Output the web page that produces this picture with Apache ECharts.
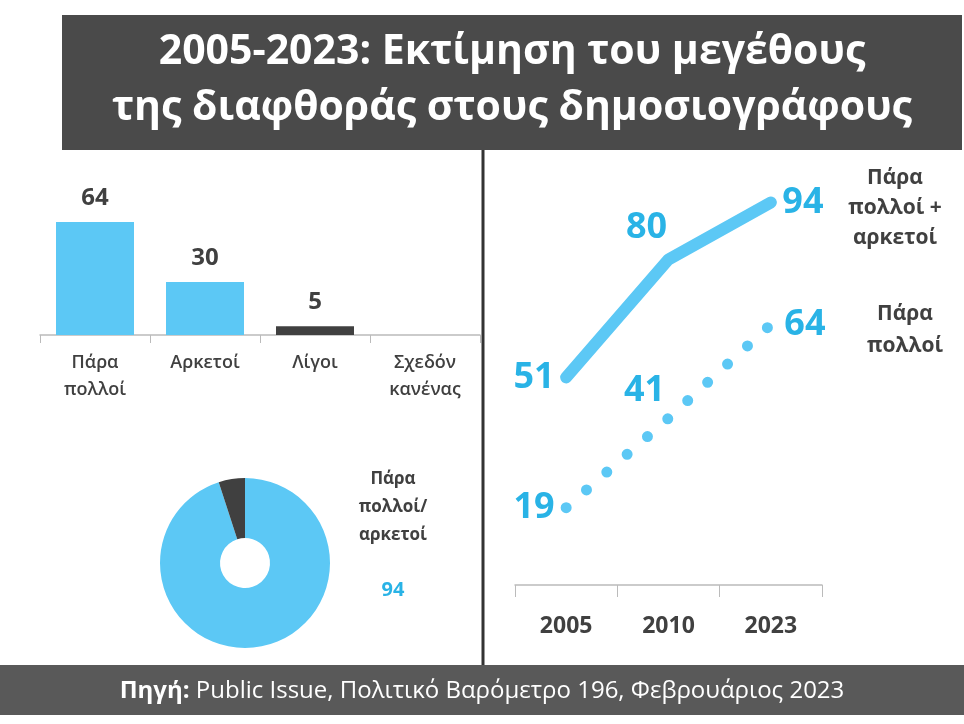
<!DOCTYPE html>
<html><head><meta charset="utf-8">
<script src="https://cdn.jsdelivr.net/npm/echarts@6/dist/echarts.min.js"></script>
<style>html,body{margin:0;padding:0;background:#fff}#c{width:964px;height:724px}</style>
</head><body><div id="c"></div>
<script>
const barCats = ['Πάρα\nπολλοί','Αρκετοί','Λίγοι','Σχεδόν\nκανένας'];
const barVals = [64, 30, 5, 0];
const pieNames = ['Πάρα πολλοί/αρκετοί','Λίγοι'];
const pieVals = [95, 5];
const years = ['2005','2010','2023'];
const sumVals = [51, 80, 94];
const veryVals = [19, 41, 64];
const BLUE='#5cc8f5', TXT='#29b3e6', DARK='#404040';
const chart = echarts.init(document.getElementById('c'));
const F='"Open Sans", sans-serif';
const pos1=[['left',[-6,0]],['top',[-22,-8]],['right',[6,0]]];
const pos2=[['left',[-6,0]],['top',[-24,-4]],['right',[8,0]]];
const lbl={color:TXT,fontSize:36,fontWeight:'bold'};
chart.setOption({
  animation:false,
  textStyle:{fontFamily:F},
  graphic:[
    {type:'rect',shape:{x:62,y:15,width:900,height:135},style:{fill:'#4a4a4a'}},
    {type:'text',x:512,y:24,style:{text:'2005-2023: Εκτίμηση του μεγέθους\nτης διαφθοράς στους δημοσιογράφους',fill:'#fff',font:'bold 41px '+F,align:'center',lineHeight:56}},
    {type:'rect',shape:{x:0,y:665,width:964,height:50},style:{fill:'#595959'}},
    {type:'text',x:482,y:691,style:{text:'{b|Πηγή:} Public Issue, Πολιτικό Βαρόμετρο 196, Φεβρουάριος 2023',fill:'#fff',font:'24px '+F,align:'center',verticalAlign:'middle',rich:{b:{fontWeight:'bold',fontSize:24,fill:'#fff',fontFamily:F}}}},
    {type:'line',shape:{x1:483,y1:150,x2:483,y2:665},style:{stroke:'#333',lineWidth:3}},
    {type:'text',x:895,y:163,style:{text:'Πάρα\nπολλοί +\nαρκετοί',fill:DARK,font:'bold 21px '+F,align:'center',lineHeight:30}},
    {type:'text',x:905,y:298,style:{text:'Πάρα\nπολλοί',fill:DARK,font:'bold 21px '+F,align:'center',lineHeight:32}},
    {type:'text',x:393,y:465,style:{text:'Πάρα\nπολλοί/\nαρκετοί',fill:DARK,font:'bold 17px '+F,align:'center',lineHeight:28}},
    {type:'text',x:393,y:580,style:{text:'94',fill:TXT,font:'bold 20px '+F,align:'center'}}
  ],
  grid:[
    {left:40,width:440,top:222,height:113},
    {left:515,width:307,top:178,height:407}
  ],
  xAxis:[
    {type:'category',gridIndex:0,data:barCats,axisLine:{lineStyle:{color:'#bbb',width:1.5}},axisTick:{show:true,length:8,lineStyle:{color:'#bbb'}},axisLabel:{color:DARK,fontSize:18,fontWeight:600,lineHeight:27,margin:14}},
    {type:'category',gridIndex:1,data:years,axisLine:{lineStyle:{color:'#bbb',width:1.5}},axisTick:{show:true,length:12,lineStyle:{color:'#bbb'}},axisLabel:{color:DARK,fontSize:23,fontWeight:'bold',margin:30}}
  ],
  yAxis:[
    {type:'value',gridIndex:0,min:0,max:64,show:false},
    {type:'value',gridIndex:1,min:0,max:100,show:false}
  ],
  series:[
    {type:'bar',xAxisIndex:0,yAxisIndex:0,data:barVals.map((v,i)=>({value:v,itemStyle:{color:i==2?DARK:BLUE}})),barWidth:78,
      label:{show:true,position:'top',color:DARK,fontSize:24,fontWeight:'bold',distance:12,formatter:p=>p.value>0?p.value:''}},
    {type:'pie',center:[245,563],radius:[25,85],startAngle:90,clockwise:true,silent:true,label:{show:false},
      data:pieVals.map((v,i)=>({name:pieNames[i],value:v,itemStyle:{color:i?DARK:BLUE}}))},
    {type:'line',xAxisIndex:1,yAxisIndex:1,symbol:'circle',symbolSize:1,showSymbol:true,itemStyle:{color:BLUE},lineStyle:{color:BLUE,width:12,cap:'round'},
      data:sumVals.map((v,i)=>({value:v,label:Object.assign({show:true,position:pos1[i][0],offset:pos1[i][1]},lbl)}))},
    {type:'line',xAxisIndex:1,yAxisIndex:1,symbol:'circle',symbolSize:1,showSymbol:true,itemStyle:{color:BLUE},lineStyle:{color:BLUE,width:11,cap:'round',type:[0,27]},
      data:veryVals.map((v,i)=>({value:v,label:Object.assign({show:true,position:pos2[i][0],offset:pos2[i][1]},lbl)}))}
  ]
});
</script></body></html>
